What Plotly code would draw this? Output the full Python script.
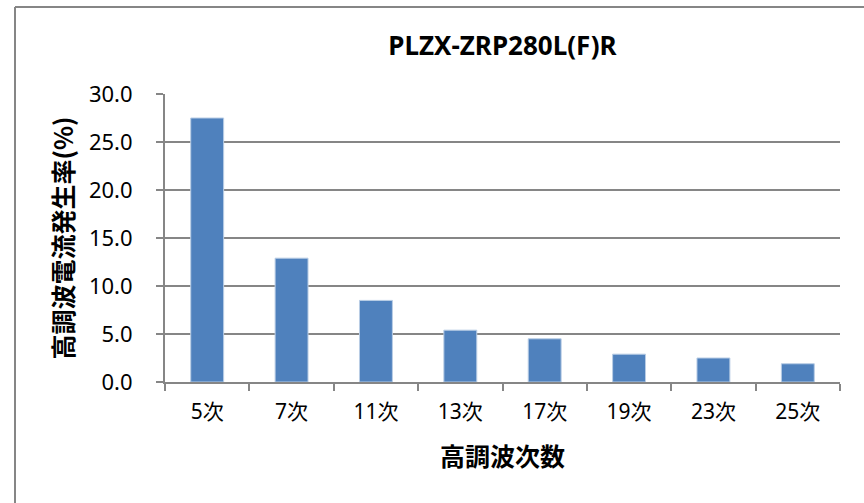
import plotly.graph_objects as go

categories = ["5次", "7次", "11次", "13次", "17次", "19次", "23次", "25次"]
values = [27.5, 12.9, 8.5, 5.4, 4.5, 2.9, 2.5, 1.9]
y_ticks = [0, 5, 10, 15, 20, 25, 30]

title_text = "PLZX-ZRP280L(F)R"
x_title = "高調波次数"
y_title = "高調波電流発生率(%)"

FONT = "Noto Sans, Noto Sans CJK JP, sans-serif"
CJK_BOLD = "Noto Sans CJK JP, Noto Sans, sans-serif"

fig = go.Figure(
    go.Bar(
        x=categories,
        y=values,
        marker=dict(color="#4F81BD", line=dict(color="#B9CDE5", width=1)),
    )
)

W, H = 864, 503
L, R, T, B = 165, 24, 94, 121
pw, ph = W - L - R, H - T - B


def px_x(px):
    return (px - L) / pw


def px_y(py):
    return (T + ph - py) / ph


fig.update_layout(
    width=W,
    height=H,
    margin=dict(l=L, r=R, t=T, b=B),
    paper_bgcolor="white",
    plot_bgcolor="white",
    bargap=0.61,
    showlegend=False,
    font=dict(family=FONT, color="black", size=18),
    title=dict(
        text="<b>" + title_text + "</b>",
        x=(L + pw / 2) / W,
        xanchor="center",
        y=1 - 46 / H,
        yanchor="middle",
        font=dict(family=FONT, size=26, color="black"),
    ),
    xaxis=dict(
        showline=True,
        linecolor="#868686",
        linewidth=2,
        ticks="outside",
        tickson="boundaries",
        ticklen=7,
        tickcolor="#868686",
        tickwidth=2,
        ticklabelstandoff=10,
        tickfont=dict(family=FONT, size=21),
        title=dict(text="<b>" + x_title + "</b>", font=dict(family=CJK_BOLD, size=25), standoff=24),
    ),
    yaxis=dict(
        range=[0, 30],
        tickvals=y_ticks,
        tickformat=".1f",
        showline=True,
        linecolor="#868686",
        linewidth=2,
        ticks="outside",
        ticklen=7,
        tickcolor="#868686",
        tickwidth=2,
        showgrid=True,
        gridcolor="#868686",
        gridwidth=1.5,
        zeroline=False,
        ticklabelstandoff=19,
        tickfont=dict(family=FONT, size=22),
        title=dict(text="<b>" + y_title + "</b>", font=dict(family=CJK_BOLD, size=25), standoff=8),
    ),
    shapes=[
        dict(
            type="line", xref="paper", yref="paper",
            x0=px_x(15), x1=px_x(W + 5), y0=px_y(7), y1=px_y(7),
            line=dict(color="#868686", width=2), layer="above",
        ),
        dict(
            type="line", xref="paper", yref="paper",
            x0=px_x(15), x1=px_x(15), y0=px_y(7), y1=px_y(H + 5),
            line=dict(color="#868686", width=2), layer="above",
        ),
    ],
)

fig.write_html(
    "out.html",
    config={"displayModeBar": False},
    post_script="document.body.style.margin='0';document.body.style.overflow='hidden';",
)
